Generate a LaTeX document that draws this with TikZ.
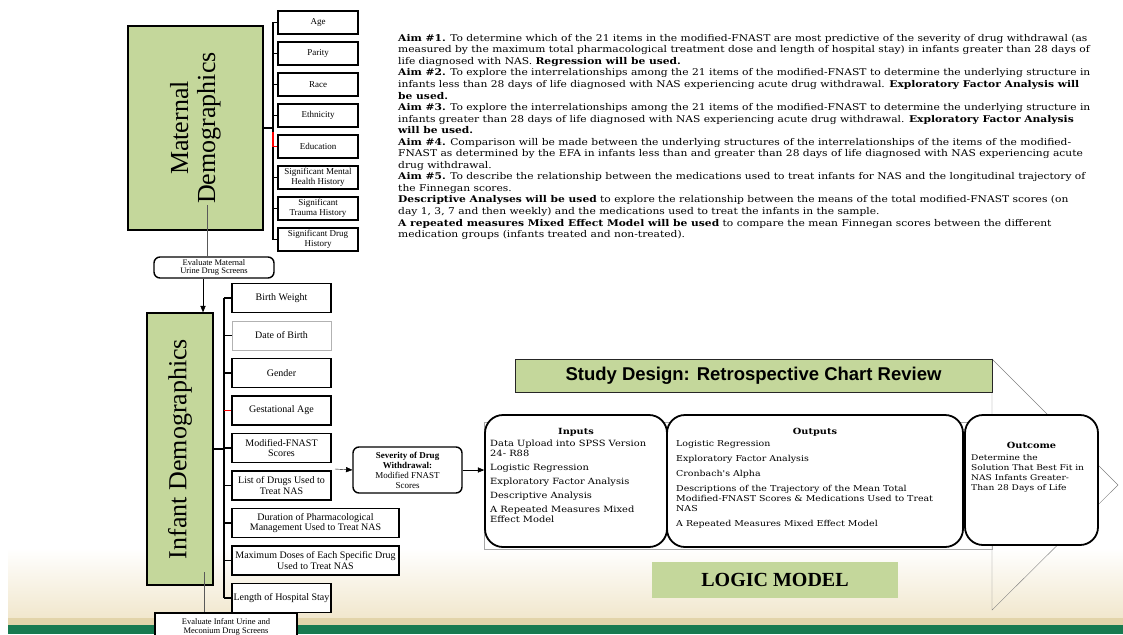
\documentclass[tikz,border=0pt]{standalone}
\usepackage{fontspec}
\setmainfont{Liberation Serif}
\newfontfamily\dvs[FakeStretch=1.15]{DejaVu Serif}
\newfontfamily\hsans{Liberation Sans}
\usetikzlibrary{shapes,arrows,positioning}
\definecolor{sage}{RGB}{196,215,155}
\definecolor{band}{RGB}{24,122,80}
\definecolor{beige}{RGB}{241,231,205}
\definecolor{tanline}{RGB}{226,212,170}
\tikzstyle{g} = [rectangle, draw=black, line width=1.6pt, fill=sage, rotate=90, align=center, font=\fontsize{26}{27}\selectfont]
\tikzstyle{r} = [rectangle, draw=black, line width=1.4pt, fill=white, align=center, inner sep=1pt]
\tikzstyle{rr} = [r, rounded corners=6pt]
\tikzstyle{mi} = [r, minimum width=80pt, minimum height=23pt, font=\fontsize{9}{9.5}\selectfont]
\tikzstyle{ii} = [r, minimum width=99pt, minimum height=29pt, font=\fontsize{10}{10.5}\selectfont]
\tikzstyle{big} = [rectangle, rounded corners=18pt, draw=black, line width=1.8pt, fill=white]
\tikzstyle{link} = [line width=1.5pt]
\tikzstyle{hd} = [font=\dvs\bfseries\fontsize{8.5}{10}\selectfont]
\tikzstyle{txt} = [anchor=north west, align=left, inner sep=0pt]

\begin{document}
\begin{tikzpicture}[x=1pt, y=-1pt, node distance=31pt, >=triangle 45]
\useasboundingbox (0,0) rectangle (1123,634);
\clip (0,0) rectangle (1123,634);
% background strip at the bottom
\shade[top color=white, bottom color=beige] (8,548) rectangle (1123,618);
\fill[tanline] (8,618) rectangle (1123,625);
\fill[band] (8,625) rectangle (1123,634);

% maternal demographics
\node[g, minimum width=204pt, minimum height=135pt] (m) at (195.5,128) {Maternal\\Demographics};
\node[mi] (m1) at (318,22.5) {Age};
\node[mi, below of=m1] (m2) {Parity};
\node[mi, below of=m2] (m3) {Race};
\node[mi, below of=m3] (m4) {Ethnicity};
\node[mi, below of=m4] (m5) {Education};
\node[mi, below of=m5] (m6) {Significant Mental\\Health History};
\node[mi, below of=m6] (m7) {Significant\\Trauma History};
\node[mi, below of=m7] (m8) {Significant Drug\\History};
% m is turned, so m.south is its right side
\draw[link] (m.south) -- ++(9,0) coordinate (mb);
\draw[link] (mb |- m1.west) -- (mb |- m8.west);
\foreach \k in {1,...,8}
	\draw[link] (mb |- m\k.west) -- (m\k.west);
\draw[link, red] (mb |- m4.west) ++(0,16) |- (m5.west);

\node[rr, minimum width=120pt, minimum height=21pt, font=\fontsize{8.5}{8.5}\selectfont] (e1) at (214,267.5) {Evaluate Maternal\\Urine Drug Screens};
\coordinate (mt) at (207,205);
\draw[gray!70!black] (mt) -- (mt |- e1.north);

% infant demographics
\node[g, minimum width=272pt, minimum height=66pt] (i) at (180,449) {Infant Demographics};
\coordinate (ea) at (203,0);
\draw[->] (e1.south -| ea) -- (i.east -| ea);
\begin{scope}[node distance=37.5pt]
\node[ii] (i1) at (281.5,298) {Birth Weight};
\node[ii, below of=i1, draw=gray!60, line width=0.8pt] (i2) {Date of Birth};
\node[ii, below of=i2] (i3) {Gender};
\node[ii, below of=i3] (i4) {Gestational Age};
\node[ii, below of=i4] (i5) {Modified-FNAST\\Scores};
\node[ii, below of=i5] (i6) {List of Drugs Used to\\Treat NAS};
\node[ii, below of=i6, xshift=34pt, minimum width=167pt] (i7) {Duration of Pharmacological\\Management Used to Treat NAS};
\node[ii, below of=i7, minimum width=167pt] (i8) {Maximum Doses of Each Specific Drug\\Used to Treat NAS};
\node[ii, below of=i8, xshift=-34pt] (i9) {Length of Hospital Stay};
\end{scope}
\draw[link] (i.south) -- ++(10,0) coordinate (ib);
\draw[link] (ib |- i1.west) -- (ib |- i9.west);
\foreach \k in {1,...,9}
	\draw[link] (ib |- i\k.west) -- (i\k.west);
\draw[link, red] (ib |- i4.west) -- (i4.west);

\node[rr, minimum width=109pt, minimum height=46pt, font=\fontsize{9}{10}\selectfont] (s) at (407.5,470) {\textbf{Severity of Drug}\\\textbf{Withdrawal:}\\Modified FNAST\\Scores};
\coordinate (sa) at (335,469);
\draw[->] (sa) -- (s.west);

% logic model
\draw[gray] (992,359) -- (1118,485) -- (992,610) -- cycle;
\draw[gray!70] (484,422) rectangle (992,549);
\node[draw=black!85, line width=1pt, fill=sage, minimum width=477pt, minimum height=33pt, font=\hsans\bfseries\fontsize{18.5}{20}\selectfont] (t) at (753.5,375.5) {Study Design: Retrospective Chart Review};

\node[big, minimum width=182pt, minimum height=132pt] (inp) at (576,481) {};
\node[big, minimum width=296pt, minimum height=132pt] (outp) at (815,481) {};
\node[big, minimum width=133pt, minimum height=130pt] (outc) at (1031.5,480) {};
\draw[->] (s.east) -- (inp.west |- s.east);

\node[hd] (inh) at (576,432) {Inputs};
\node[txt, font=\dvs\fontsize{8.6}{10}\selectfont] (int) at (490,440) {Data Upload into SPSS Version\\24- R88\\[4pt]Logistic Regression\\[4pt]Exploratory Factor Analysis\\[4pt]Descriptive Analysis\\[4pt]A Repeated Measures Mixed\\Effect Model};
\node[hd] (outh) at (815,432) {Outputs};
\node[txt, font=\dvs\fontsize{8.2}{10}\selectfont] (outt) at (676,440) {Logistic Regression\\[5pt]Exploratory Factor Analysis\\[5pt]Cronbach's Alpha\\[5pt]Descriptions of the Trajectory of the Mean Total\\Modified-FNAST Scores \& Medications Used to Treat\\NAS\\[5pt]A Repeated Measures Mixed Effect Model};
\node[hd] (och) at (1031.5,445) {Outcome};
\node[txt, font=\dvs\fontsize{7.9}{10}\selectfont] (oct) at (971,454) {Determine the\\Solution That Best Fit in\\NAS Infants Greater-\\Than 28 Days of Life};

\node[fill=sage, minimum width=246pt, minimum height=36pt, font=\bfseries\fontsize{20}{22}\selectfont] (lm) at (775,580) {LOGIC MODEL};

% aims
\node[txt, font=\dvs\fontsize{9.3}{11.55}\selectfont] (aims) at (398,34) {%
\textbf{Aim \#1.} To determine which of the 21 items in the modified-FNAST are most predictive of the severity of drug withdrawal (as\\
measured by the maximum total pharmacological treatment dose and length of hospital stay) in infants greater than 28 days of\\
life diagnosed with NAS. \textbf{Regression will be used.}\\
\textbf{Aim \#2.} To explore the interrelationships among the 21 items of the modified-FNAST to determine the underlying structure in\\
infants less than 28 days of life diagnosed with NAS experiencing acute drug withdrawal. \textbf{Exploratory Factor Analysis will}\\
\textbf{be used.}\\
\textbf{Aim \#3.} To explore the interrelationships among the 21 items of the modified-FNAST to determine the underlying structure in\\
infants greater than 28 days of life diagnosed with NAS experiencing acute drug withdrawal. \textbf{Exploratory Factor Analysis}\\
\textbf{will be used.}\\
\textbf{Aim \#4.} Comparison will be made between the underlying structures of the interrelationships of the items of the modified-\\
FNAST as determined by the EFA in infants less than and greater than 28 days of life diagnosed with NAS experiencing acute\\
drug withdrawal.\\
\textbf{Aim \#5.} To describe the relationship between the medications used to treat infants for NAS and the longitudinal trajectory of\\
the Finnegan scores.\\
\textbf{Descriptive Analyses will be used} to explore the relationship between the means of the total modified-FNAST scores (on\\
day 1, 3, 7 and then weekly) and the medications used to treat the infants in the sample.\\
\textbf{A repeated measures Mixed Effect Model will be used} to compare the mean Finnegan scores between the different\\
medication groups (infants treated and non-treated).};

% infant screens, over the band
\coordinate (it) at (204,572);
\draw[gray!70!black] (it) -- (it |- 0,613);
\node[r, minimum width=142pt, minimum height=28pt, font=\fontsize{8.5}{9}\selectfont] (e2) at (226,627) {Evaluate Infant Urine and\\Meconium Drug Screens};
\end{tikzpicture}
\end{document}
